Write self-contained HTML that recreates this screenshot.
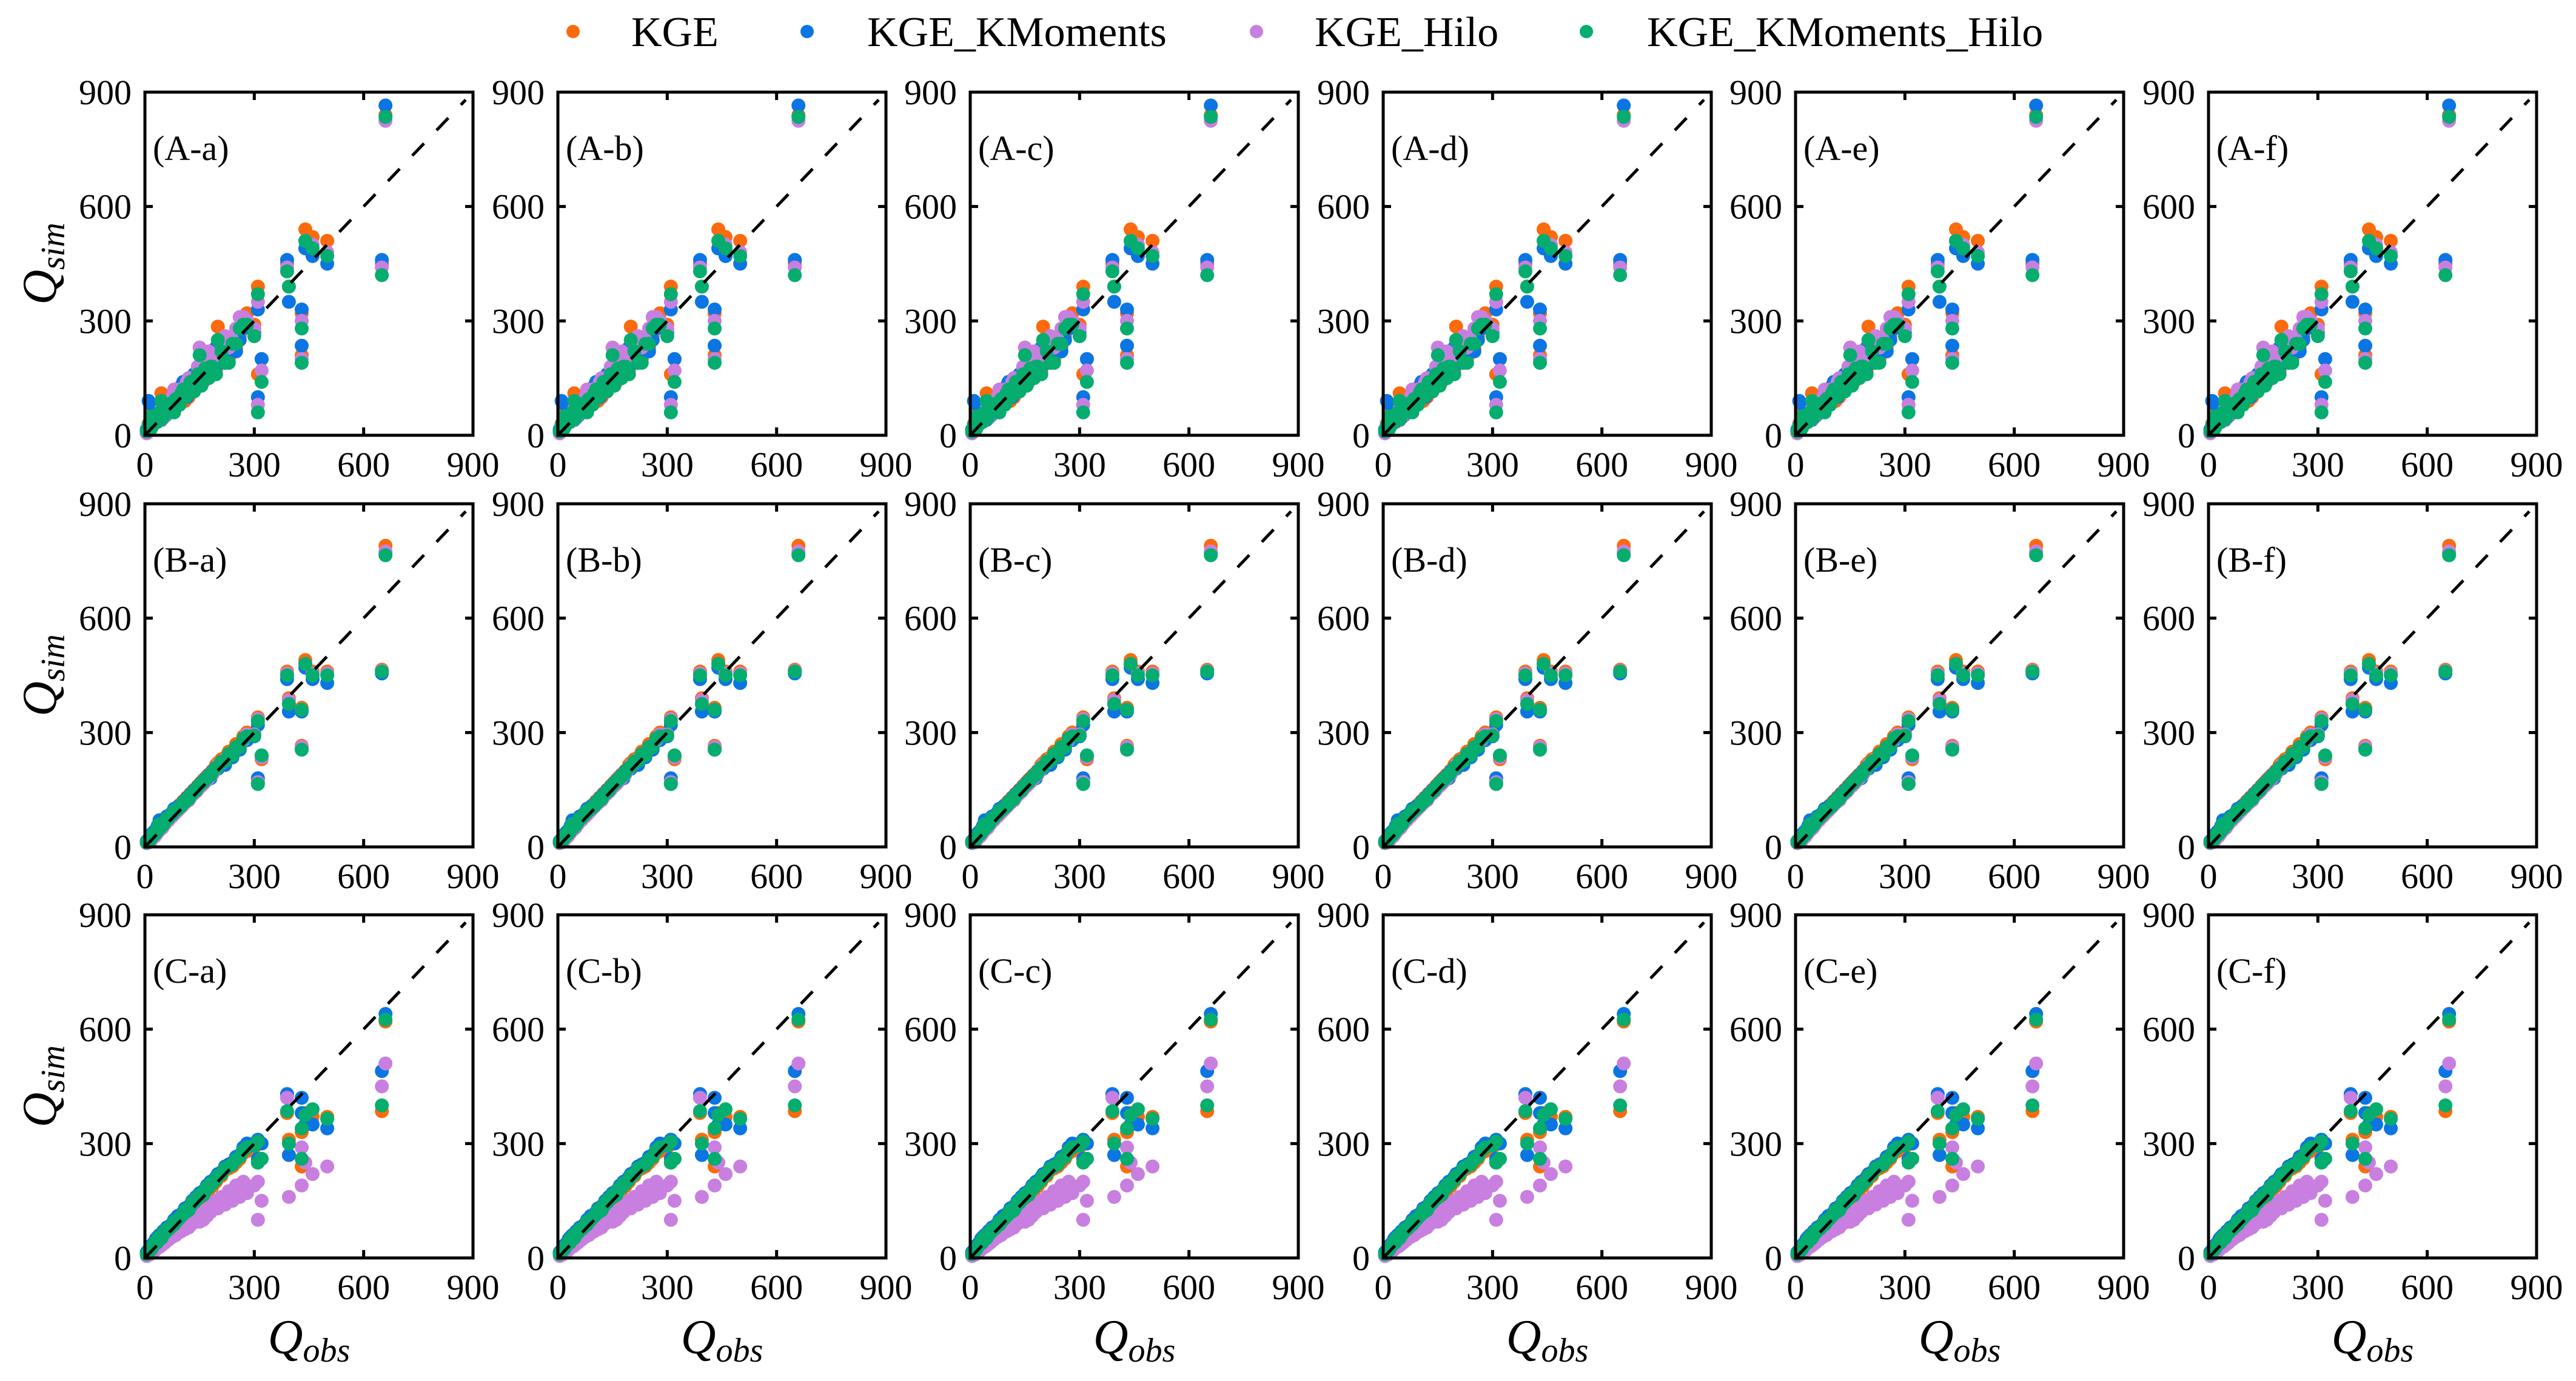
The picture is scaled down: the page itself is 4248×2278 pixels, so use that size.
<!DOCTYPE html>
<html><head><meta charset="utf-8">
<style>
html,body{margin:0;padding:0;background:#fff;}
svg{display:block;}
text{font-family:"Liberation Serif",serif;fill:#000;}
</style></head>
<body>
<svg id="chart" width="4248" height="2278" viewBox="0 0 4248 2278" xmlns="http://www.w3.org/2000/svg">
<g id="legend"></g>
<g id="panels"></g>
</svg>
<script>
const seriesNames = ["KGE","KGE_KMoments","KGE_Hilo","KGE_KMoments_Hilo"];
const seriesColors = ["#fb6a0c","#0b75e3","#c87fe0","#05ad6e"];
const rowLetters = ["A","B","C"];
const colLetters = ["a","b","c","d","e","f"];
const tickValues = [0,300,600,900];
const tickLabels = ["0","300","600","900"];
const obs = [5,10,15,20,25,30,35,40,50,60,70,80,90,100,110,120,130,140,150,160,170,180,200,220,240,260,280,300,310,310,320,390,395,430,430,440,460,500,650,660,
  12,18,28,33,42,48,55,65,75,85,95,105,115,125,135,145,155,165,175,185,195,210,230,250,270,20,45,80,120,160];
const A_KGE = [8,30,20,45,35,50,60,70,50,100,60,110,80,130,90,140,120,160,230,150,180,170,285,190,230,260,320,290,390,160,200,450,390,320,210,540,520,510,450,840,
  20,35,45,55,65,70,85,95,105,80,120,130,110,150,125,170,140,210,160,200,170,250,200,230,300,60,110,70,100,140];
const A_KM = [15,90,25,30,40,45,55,60,70,80,65,90,100,95,110,120,150,130,140,170,160,190,200,230,220,250,300,270,330,100,200,460,350,330,235,490,470,450,460,865,
  30,25,60,40,75,55,50,90,70,110,85,140,100,120,160,130,190,150,200,170,230,190,250,220,280,80,40,100,130,180];
const A_Hilo = [5,20,15,25,30,40,35,55,45,70,80,75,95,110,100,130,140,150,230,160,170,200,210,260,250,310,300,280,350,80,170,440,390,300,200,510,500,480,440,825,
  15,30,35,50,55,70,75,80,100,90,120,110,140,150,130,180,170,160,220,190,210,240,230,280,310,40,70,120,150,200];
const A_KMH = [10,25,15,35,30,45,50,60,55,75,70,85,90,110,100,120,135,145,210,150,175,180,250,190,240,280,290,260,370,60,140,430,390,280,190,510,490,470,420,835,
  25,20,50,35,60,45,70,75,85,95,80,120,105,140,115,160,130,175,150,180,160,220,190,240,290,50,90,60,110,150];
const B_KGE = [10,15,20,25,30,35,45,50,55,70,80,90,100,110,115,130,140,150,165,175,185,190,220,235,250,270,300,300,340,170,230,460,390,365,265,490,460,460,465,790,
  15,22,33,38,50,55,65,75,85,95,110,120,130,140,150,160,170,180,190,200,215,230,250,270,290,25,55,90,130,175];
const B_KM = [15,20,25,35,40,45,55,70,60,80,85,100,105,110,120,130,140,145,160,165,175,180,205,215,235,255,280,290,320,180,240,440,355,355,260,470,440,430,455,770,
  18,25,35,42,52,60,68,78,90,100,105,118,128,138,148,158,168,178,188,198,208,222,240,262,280,30,60,95,125,170];
const B_Hilo = [10,15,20,25,30,35,45,50,55,70,80,90,95,105,115,125,140,150,160,170,180,190,215,230,245,265,295,295,335,170,235,455,385,360,262,480,455,455,462,775,
  12,18,28,35,45,50,60,70,80,90,100,110,120,130,140,150,160,170,180,190,205,220,240,258,280,22,50,85,122,165];
const B_KMH = [12,18,22,30,35,40,50,60,58,75,82,95,100,108,118,128,140,148,162,170,180,188,210,225,240,262,290,292,330,165,240,450,375,360,255,480,450,450,460,765,
  16,24,34,40,50,58,66,76,86,96,104,116,126,136,146,156,166,176,186,196,208,224,244,262,284,28,56,92,126,170];
const C_KGE = [10,15,20,30,35,40,45,55,60,70,75,90,95,105,120,125,140,150,160,170,180,190,210,230,240,260,280,290,300,250,260,380,310,330,240,380,370,370,385,620,
  15,22,35,38,45,55,60,70,80,90,100,110,118,130,138,148,160,170,178,188,200,215,235,250,275,25,50,85,120,160];
const C_KM = [15,20,25,35,40,50,55,60,70,80,85,100,110,115,130,135,150,160,170,175,190,200,220,240,250,270,300,300,310,260,300,430,270,420,380,350,350,340,490,640,
  20,25,40,42,55,60,70,78,90,100,108,120,128,140,150,160,170,180,190,200,212,225,245,265,290,30,55,90,130,170];
const C_Hilo = [5,10,12,20,25,25,30,35,40,50,55,60,65,70,75,80,90,100,95,100,110,120,130,140,150,160,170,190,200,100,150,420,160,290,190,250,220,240,450,510,
  8,12,20,25,30,35,40,48,55,60,70,75,80,90,95,110,115,125,130,140,150,160,175,190,200,15,35,60,85,120];
const C_KMH = [10,15,22,30,35,42,50,55,65,75,80,95,100,110,125,130,145,155,165,172,185,195,215,235,245,265,290,295,305,250,260,385,300,340,260,375,390,365,400,625,
  18,24,38,40,50,58,66,75,85,95,105,115,122,135,145,155,165,175,185,195,205,220,240,258,282,28,52,88,125,165];
const rowSims = [[A_KGE,A_KM,A_Hilo,A_KMH],[B_KGE,B_KM,B_Hilo,B_KMH],[C_KGE,C_KM,C_Hilo,C_KMH]];

const NS = "http://www.w3.org/2000/svg";
const colLeft = [239,920,1600,2281,2961,3642];
const rowTop = [152,831,1509];
const PW = 541, PH = 566, AXMAX = 900;
function mk(tag, attrs, parent){
  const e = document.createElementNS(NS, tag);
  for (const k in attrs) e.setAttribute(k, attrs[k]);
  parent.appendChild(e);
  return e;
}

const legend = document.getElementById("legend");
const legDot = [945,1331,2072,2616];
const legText = [1041,1430,2168,2716];
seriesNames.forEach((n,i)=>{
  const c = mk("circle",{cx:legDot[i],cy:52,r:11,fill:seriesColors[i]},legend);
  
  
  const t = mk("text",{x:legText[i],y:76,"font-size":70},legend);
  t.textContent = n;
  
  
});

const panels = document.getElementById("panels");
rowLetters.forEach((R,ri)=>{
  const yt = mk("text",{x:0,y:0,"font-size":80,"font-style":"italic","text-anchor":"middle",
    transform:`translate(92,${rowTop[ri]+PH/2}) rotate(-90)`},panels);
  
  
  yt.innerHTML = 'Q<tspan font-size="56" dy="14">sim</tspan>';
  colLetters.forEach((C,ci)=>{
    const L = colLeft[ci], T = rowTop[ri];
    const sx = v => L + v/AXMAX*PW;
    const sy = v => T + PH - v/AXMAX*PH;
    const g = mk("g",{},panels);
    
    
    rowSims[ri].forEach((arr,si)=>{
      const sg = mk("g",{fill:seriesColors[si]},g);
      
      
      arr.forEach((v,k)=>{
        const p = mk("circle",{cx:sx(obs[k]).toFixed(1),cy:sy(v).toFixed(1),r:11.5},sg);
        
        
      });
    });
    const dl = mk("line",{x1:sx(0),y1:sy(0),x2:sx(880),y2:sy(880),stroke:"#000","stroke-width":5,"stroke-dasharray":"28,30"},g);
    
    
    const fr = mk("rect",{x:L,y:T,width:PW,height:PH,fill:"none",stroke:"#000","stroke-width":5},g);
    
    
    tickValues.forEach((v,ti)=>{
      if (v>0 && v<AXMAX){
        const tk = mk("path",{d:`M${sx(v)},${T+PH}v-13M${sx(v)},${T}v13M${L},${sy(v)}h13M${L+PW},${sy(v)}h-13`,stroke:"#000","stroke-width":5},g);
        
        
      }
      const xl = mk("text",{x:sx(v),y:T+PH+68,"font-size":58,"text-anchor":"middle"},g);
      xl.textContent = tickLabels[ti];
      
      
      const yl = mk("text",{x:L-22,y:sy(v)+20,"font-size":58,"text-anchor":"end"},g);
      yl.textContent = tickLabels[ti];
      
      
    });
    const pl = mk("text",{x:L+13,y:T+112,"font-size":58},g);
    pl.textContent = "("+R+"-"+C+")";
    
    
    if (ri===2){
      const xt = mk("text",{x:L+PW/2,y:2232,"font-size":80,"font-style":"italic","text-anchor":"middle"},g);
      xt.innerHTML = 'Q<tspan font-size="56" dy="14">obs</tspan>';
      
      
    }
  });
});
</script>
</body></html>
